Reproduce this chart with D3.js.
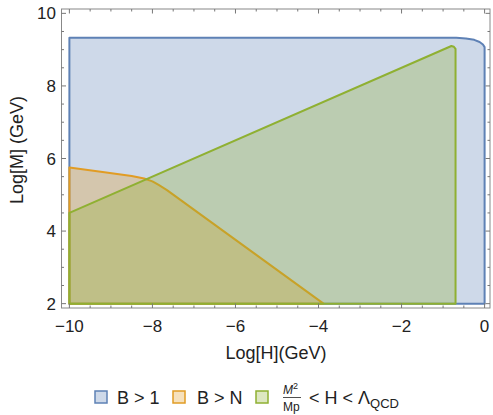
<!DOCTYPE html>
<html>
<head>
<meta charset="utf-8">
<script src="https://cdn.jsdelivr.net/npm/d3@7"></script>
<style>
  body { margin: 0; background: #fff; }
  text { font-family: "Liberation Sans", Arial, sans-serif; fill: #222; }
</style>
</head>
<body>
<svg width="493" height="415"></svg>
<script>
// region outlines (Log[H], Log[M])
var blueX = [-10, -10, -0.68, -0.45, -0.25, -0.12, -0.04, 0, 0];
var blueY = [2, 9.33, 9.33, 9.31, 9.27, 9.21, 9.14, 9.07, 2];
var orangeX = [-10, -10, -9.2, -8.5, -8.2, -8.0, -7.85, -7.65, -3.88];
var orangeY = [2, 5.75, 5.63, 5.52, 5.45, 5.37, 5.27, 5.13, 2];
var greenX = [-10, -10, -0.8, -0.74, -0.7, -0.7];
var greenY = [2, 4.5, 9.1, 9.08, 9.02, 2];
var xTicks = [-10, -8, -6, -4, -2, 0];
var yTicks = [2, 4, 6, 8, 10];
var names = ["B > 1", "B > N"];
var colors = ["#5e81b5", "#e19c24", "#8fb032"];

var svg = d3.select("svg"),
  pLeft = 61.5, pRight = 490, pTop = 9, pBottom = 308;

var x = d3.scaleLinear().domain([-10.19, 0.13]).range([pLeft, pRight]),
  y = d3.scaleLinear().domain([1.88, 10.12]).range([pBottom, pTop]);

var line = d3.line()
  .x(function(d) { return x(d[0]); })
  .y(function(d) { return y(d[1]); });

function region(xs, ys, c) {
  var pts = xs.map(function(v, i) { return [v, ys[i]]; });
  svg.append("path")
    .attr("d", line(pts) + "Z")
    .attr("fill", c)
    .attr("fill-opacity", 0.3)
    .attr("stroke", c)
    .attr("stroke-width", 2)
    .attr("stroke-linejoin", "round");
}

region(blueX, blueY, colors[0]);
region(orangeX, orangeY, colors[1]);
region(greenX, greenY, colors[2]);

// frame with ticks on all sides
svg.append("rect")
  .attr("x", pLeft).attr("y", pTop)
  .attr("width", pRight - pLeft).attr("height", pBottom - pTop)
  .attr("fill", "none").attr("stroke", "#888").attr("stroke-width", 1);

var xMinor = d3.range(-10, 0.01, 0.5),
  yMinor = d3.range(2, 10.01, 0.5);
xMinor.forEach(function(v) {
  var len = xTicks.indexOf(v) >= 0 ? 4.5 : 2.5;
  svg.append("line").attr("x1", x(v)).attr("x2", x(v))
    .attr("y1", pBottom).attr("y2", pBottom - len).attr("stroke", "#777");
  svg.append("line").attr("x1", x(v)).attr("x2", x(v))
    .attr("y1", pTop).attr("y2", pTop + len).attr("stroke", "#777");
});
yMinor.forEach(function(v) {
  var len = yTicks.indexOf(v) >= 0 ? 4.5 : 2.5;
  svg.append("line").attr("y1", y(v)).attr("y2", y(v))
    .attr("x1", pLeft).attr("x2", pLeft + len).attr("stroke", "#777");
  svg.append("line").attr("y1", y(v)).attr("y2", y(v))
    .attr("x1", pRight).attr("x2", pRight - len).attr("stroke", "#777");
});

svg.selectAll(".xl").data(xTicks).enter().append("text")
  .attr("x", function(d) { return x(d); })
  .attr("y", 332)
  .attr("text-anchor", "middle")
  .attr("font-size", 17)
  .text(function(d) { return d < 0 ? "\u2212" + (-d) : d; });

svg.selectAll(".yl").data(yTicks).enter().append("text")
  .attr("x", 56)
  .attr("y", function(d) { return y(d) + 6; })
  .attr("text-anchor", "end")
  .attr("font-size", 17)
  .text(function(d) { return d; });

svg.append("text")
  .attr("x", 276).attr("y", 359)
  .attr("text-anchor", "middle").attr("font-size", 18)
  .text("Log[H](GeV)");

svg.append("text")
  .attr("transform", "translate(23,150) rotate(-90)")
  .attr("text-anchor", "middle").attr("font-size", 18)
  .text("Log[M] (GeV)");

// legend
var swX = [95, 173, 256];
swX.forEach(function(sx, i) {
  svg.append("rect")
    .attr("x", sx).attr("y", 391).attr("width", 12).attr("height", 12)
    .attr("fill", colors[i]).attr("fill-opacity", 0.3)
    .attr("stroke", colors[i]).attr("stroke-width", 1.5);
});
svg.append("text").attr("x", 117).attr("y", 404).attr("font-size", 18).text(names[0]);
svg.append("text").attr("x", 197).attr("y", 404).attr("font-size", 18).text(names[1]);

var num = svg.append("text").attr("x", 283).attr("y", 394).attr("font-size", 12);
num.append("tspan").attr("font-style", "italic").text("M");
num.append("tspan").attr("dy", -5).attr("font-size", 9).text("2");
svg.append("line").attr("x1", 283).attr("x2", 301)
  .attr("y1", 397.5).attr("y2", 397.5).attr("stroke", "#222").attr("stroke-width", 0.8);
svg.append("text").attr("x", 283).attr("y", 411).attr("font-size", 12).text("Mp");

var rest = svg.append("text").attr("x", 309).attr("y", 404).attr("font-size", 18);
rest.append("tspan").text("< H < \u039b");
rest.append("tspan").attr("dy", 4).attr("font-size", 13).text("QCD");
</script>
</body>
</html>
